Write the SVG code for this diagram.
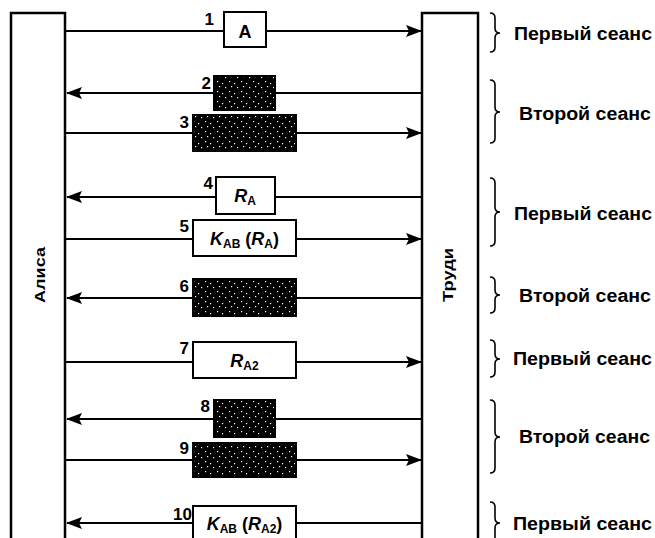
<svg xmlns="http://www.w3.org/2000/svg" width="655" height="538" viewBox="0 0 655 538">
<style>
.party{fill:#fff;stroke:#000;stroke-width:2.5}
.box{fill:#fff;stroke:#000;stroke-width:2}
.dark{fill:url(#noise);stroke:#000;stroke-width:2}
.line{stroke:#000;stroke-width:2;fill:none}
.brace{stroke:#000;stroke-width:1.6;fill:none}
text{font-family:"Liberation Sans",Arial,sans-serif;font-weight:bold;fill:#000}
.num{font-size:17px;text-anchor:end}
.lbl{font-size:18px;text-anchor:middle}
.sess{font-size:18px}
.name{font-size:15px;text-anchor:middle}
.it{font-style:italic}
.sub{font-size:12px}
</style>
<defs>
<marker id="arr" markerUnits="userSpaceOnUse" markerWidth="16" markerHeight="12" refX="15" refY="6" orient="auto">
<path d="M0,0 L16,6 L0,12 L3,6 z" fill="#000"/>
</marker>
<pattern id="noise" patternUnits="userSpaceOnUse" width="12" height="10">
<rect width="12" height="10" fill="#000"/>
<rect x="1" y="1" width="1.2" height="1.2" fill="#fff"/>
<rect x="6" y="3" width="1.2" height="1.2" fill="#fff"/>
<rect x="3" y="6" width="1.2" height="1.2" fill="#fff"/>
<rect x="9" y="7" width="1.2" height="1.2" fill="#fff"/>
</pattern>
</defs>
<rect width="655" height="538" fill="#fff"/>

<g id="alice">
<rect class="party" x="11" y="13" width="54" height="540"/>
<text class="name" transform="translate(45,275) rotate(-90)" textLength="56" lengthAdjust="spacingAndGlyphs">Алиса</text>
</g>
<g id="trudy">
<rect class="party" x="422" y="13" width="56" height="540"/>
<text class="name" transform="translate(453,275) rotate(-90)" textLength="54" lengthAdjust="spacingAndGlyphs">Труди</text>
</g>

<g id="connectors">
<line class="line" x1="66" y1="31" x2="421" y2="31" marker-end="url(#arr)"/>
<line class="line" x1="421" y1="93" x2="67" y2="93" marker-end="url(#arr)"/>
<line class="line" x1="66" y1="133" x2="421" y2="133" marker-end="url(#arr)"/>
<line class="line" x1="421" y1="197" x2="67" y2="197" marker-end="url(#arr)"/>
<line class="line" x1="66" y1="239" x2="421" y2="239" marker-end="url(#arr)"/>
<line class="line" x1="421" y1="298" x2="67" y2="298" marker-end="url(#arr)"/>
<line class="line" x1="66" y1="362" x2="421" y2="362" marker-end="url(#arr)"/>
<line class="line" x1="421" y1="419" x2="67" y2="419" marker-end="url(#arr)"/>
<line class="line" x1="66" y1="460" x2="421" y2="460" marker-end="url(#arr)"/>
<line class="line" x1="421" y1="523" x2="67" y2="523" marker-end="url(#arr)"/>
</g>

<g id="msg1">
<rect class="box" x="224" y="12" width="42" height="35"/>
<text class="lbl" x="245" y="38">A</text>
<text class="num" x="214" y="25">1</text>
</g>
<g id="msg2">
<rect class="dark" x="214" y="76" width="61" height="34"/>
<text class="num" x="211" y="89">2</text>
</g>
<g id="msg3">
<rect class="dark" x="193" y="115" width="103" height="36"/>
<text class="num" x="189" y="128">3</text>
</g>
<g id="msg4">
<rect class="box" x="216" y="177" width="59" height="37"/>
<text class="lbl" x="245" y="202"><tspan class="it">R</tspan><tspan class="sub" dy="3">A</tspan></text>
<text class="num" x="213" y="189">4</text>
</g>
<g id="msg5">
<rect class="box" x="193" y="220" width="103" height="36"/>
<text class="lbl" x="244.5" y="245"><tspan class="it">K</tspan><tspan class="sub" dy="3">AB</tspan><tspan dy="-3"> (</tspan><tspan class="it">R</tspan><tspan class="sub" dy="3">A</tspan><tspan dy="-3">)</tspan></text>
<text class="num" x="189" y="232">5</text>
</g>
<g id="msg6">
<rect class="dark" x="193" y="279" width="103" height="37"/>
<text class="num" x="189" y="292">6</text>
</g>
<g id="msg7">
<rect class="box" x="193" y="342" width="103" height="36"/>
<text class="lbl" x="244.5" y="367"><tspan class="it">R</tspan><tspan class="sub" dy="3">A2</tspan></text>
<text class="num" x="189" y="354">7</text>
</g>
<g id="msg8">
<rect class="dark" x="214" y="400" width="61" height="37"/>
<text class="num" x="210" y="412">8</text>
</g>
<g id="msg9">
<rect class="dark" x="193" y="443" width="103" height="34"/>
<text class="num" x="189" y="454">9</text>
</g>
<g id="msg10">
<rect class="box" x="193" y="506" width="103" height="40"/>
<text class="lbl" x="244.5" y="530"><tspan class="it">K</tspan><tspan class="sub" dy="3">AB</tspan><tspan dy="-3"> (</tspan><tspan class="it">R</tspan><tspan class="sub" dy="3">A2</tspan><tspan dy="-3">)</tspan></text>
<text class="num" x="192" y="520">10</text>
</g>

<g id="session1">
<path class="brace" d="M490,13 Q495,13 495,18 L495,28 Q495,33 500,33 Q495,33 495,38 L495,47 Q495,52 490,52"/>
<text class="sess" x="514" y="40" textLength="138" lengthAdjust="spacingAndGlyphs">Первый сеанс</text>
</g>
<g id="session2">
<path class="brace" d="M490,80 Q495,80 495,85 L495,107 Q495,112 500,112 Q495,112 495,117 L495,138 Q495,143 490,143"/>
<text class="sess" x="519" y="120" textLength="132" lengthAdjust="spacingAndGlyphs">Второй сеанс</text>
</g>
<g id="session3">
<path class="brace" d="M490,178 Q495,178 495,183 L495,207 Q495,212 500,212 Q495,212 495,217 L495,241 Q495,246 490,246"/>
<text class="sess" x="514" y="220" textLength="138" lengthAdjust="spacingAndGlyphs">Первый сеанс</text>
</g>
<g id="session4">
<path class="brace" d="M490,277 Q495,277 495,282 L495,290 Q495,295 500,295 Q495,295 495,300 L495,308 Q495,313 490,313"/>
<text class="sess" x="519" y="302" textLength="132" lengthAdjust="spacingAndGlyphs">Второй сеанс</text>
</g>
<g id="session5">
<path class="brace" d="M490,340 Q495,340 495,345 L495,354 Q495,359 500,359 Q495,359 495,364 L495,372 Q495,377 490,377"/>
<text class="sess" x="513" y="365" textLength="139" lengthAdjust="spacingAndGlyphs">Первый сеанс</text>
</g>
<g id="session6">
<path class="brace" d="M490,400 Q495,400 495,405 L495,432 Q495,437 500,437 Q495,437 495,442 L495,468 Q495,473 490,473"/>
<text class="sess" x="519" y="443" textLength="131" lengthAdjust="spacingAndGlyphs">Второй сеанс</text>
</g>
<g id="session7">
<path class="brace" d="M490,502 Q495,502 495,507 L495,518 Q495,523 500,523 Q495,523 495,528 L495,539 Q495,544 490,544"/>
<text class="sess" x="513" y="530" textLength="139" lengthAdjust="spacingAndGlyphs">Первый сеанс</text>
</g>
</svg>
